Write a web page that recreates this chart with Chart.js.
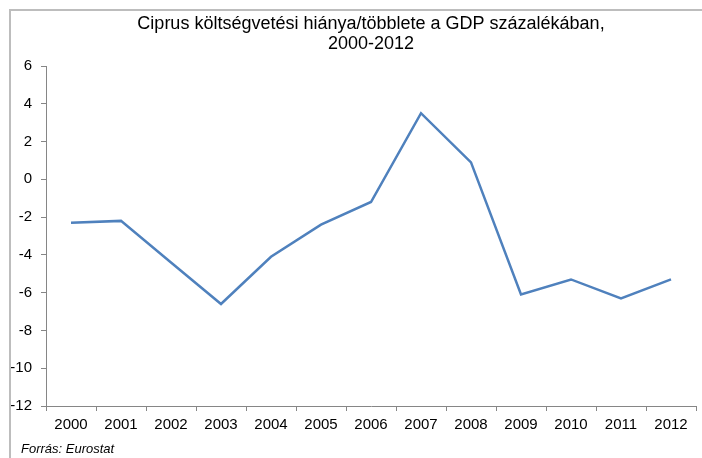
<!DOCTYPE html>
<html>
<head>
<meta charset="utf-8">
<script src="https://cdn.jsdelivr.net/npm/chart.js@4"></script>
<style>
  html, body { margin: 0; padding: 0; background: #fff; overflow: hidden; }
  #wrap { position: relative; width: 702px; height: 458px; }
  #frame {
    position: absolute; left: 9px; top: 9px; width: 720px; height: 470px;
    border-left: 2px solid #bdbdbd; border-top: 2px solid #bdbdbd;
    pointer-events: none;
  }
  #source {
    position: absolute; left: 21px; top: 441px;
    font: italic 13px "Liberation Sans", Arial, sans-serif; color: #000;
  }
</style>
</head>
<body>
<div id="wrap">
  <canvas id="chart" width="702" height="458"></canvas>
  <div id="frame"></div>
  <div id="source">Forrás: Eurostat</div>
</div>
<script>
const years = ['2000', '2001', '2002', '2003', '2004', '2005', '2006', '2007', '2008', '2009', '2010', '2011', '2012'];
const balance = [-2.3, -2.2, -4.4, -6.6, -4.1, -2.4, -1.2, 3.5, 0.9, -6.1, -5.3, -6.3, -5.3];
const titleLines = ['Ciprus költségvetési hiánya/többlete a GDP százalékában,', '2000-2012'];

const axisColor = '#868686';
const font = 'Liberation Sans, Arial, sans-serif';

new Chart(document.getElementById('chart'), {
  type: 'line',
  data: {
    labels: years,
    datasets: [{
      data: balance,
      borderColor: '#4F81BD',
      borderWidth: 2.5,
      pointRadius: 0,
      tension: 0,
    }],
  },
  options: {
    responsive: false,
    animation: false,
    layout: { padding: { top: 14, right: 6, bottom: 22, left: 0 } },
    plugins: {
      legend: { display: false },
      tooltip: { enabled: false },
      title: {
        display: true,
        text: titleLines,
        fullSize: false,
        color: '#000',
        font: { family: font, size: 18, weight: 'normal', lineHeight: 20 / 18 },
        padding: { top: 0, bottom: 12 },
      },
    },
    scales: {
      x: {
        offset: true,
        grid: { drawOnChartArea: false, color: axisColor, tickLength: 5, offset: true },
        border: { color: axisColor },
        ticks: { color: '#000', padding: 5, maxRotation: 0, font: { family: font, size: 15 } },
        afterFit: (s) => { s.height = 30; },
      },
      y: {
        min: -12,
        max: 6,
        ticks: { stepSize: 2, color: '#000', padding: 9, font: { family: font, size: 15 } },
        grid: { drawOnChartArea: false, color: axisColor, tickLength: 5 },
        border: { color: axisColor },
        afterFit: (s) => { s.width = 46; },
      },
    },
  },
});
</script>
</body>
</html>
